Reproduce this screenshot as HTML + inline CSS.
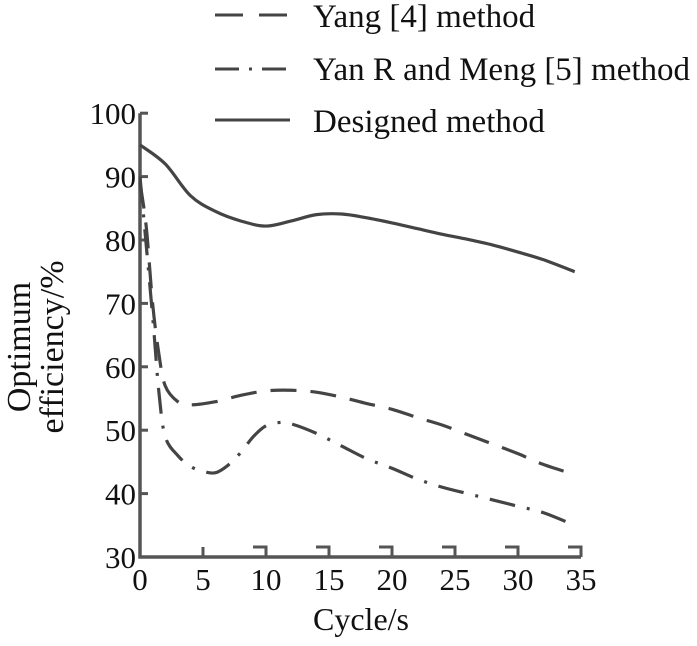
<!DOCTYPE html>
<html><head><meta charset="utf-8"><style>
html,body{margin:0;padding:0;background:#fff;}
svg text{font-family:"Liberation Serif",serif;fill:#111;}
</style></head><body>
<svg width="697" height="641" viewBox="0 0 697 641">
<g id="legend">
  <g>
    <line x1="215" y1="15" x2="290" y2="15" stroke="#444" stroke-width="3" stroke-dasharray="28,16"/>
    <text x="313" y="27" font-size="33">Yang [4] method</text>
  </g>
  <g>
    <line x1="215" y1="69" x2="290" y2="69" stroke="#444" stroke-width="3" stroke-dasharray="24,10,3,10"/>
    <text x="313" y="80" font-size="33">Yan R and Meng [5] method</text>
  </g>
  <g>
    <line x1="215" y1="120" x2="290" y2="120" stroke="#444" stroke-width="3"/>
    <text x="313" y="132" font-size="33">Designed method</text>
  </g>
</g>
<g id="axes"></g>
<g id="series"></g>
<text x="361" y="630" font-size="32" text-anchor="middle">Cycle/s</text>
<g transform="translate(0,347) rotate(-90)">
  <text x="0" y="30" font-size="34" text-anchor="middle">Optimum</text>
  <text x="0" y="63" font-size="34" text-anchor="middle">efficiency/%</text>
</g>
</svg>
<script>
const xTicks=[0,5,10,15,20,25,30,35];
const yTicks=[30,40,50,60,70,80,90,100];
const tDesigned=[0,2,4,6,8,10,12,14,16,18,20,22,24,26,28,30,32,34.5];
const vDesigned=[95,92,87,84.5,83,82.2,83,84,84.1,83.5,82.7,81.8,80.9,80.1,79.2,78.1,76.9,75];
const tYang=[0,0.5,1,1.5,2,3,4,6,8,10,12,14,16,18,20,22,24,26,28,30,32,34.5];
const vYang=[89,82,70,62,57,54.5,54,54.5,55.5,56.2,56.3,56,55.2,54.2,53.3,52,50.8,49.3,47.8,46.3,44.6,43];
const tYan=[0,1,1.5,2,3,4,5,6,7,8,9,10,11,12,14,16,18,20,22,24,26,28,30,32,34.5];
const vYan=[90,68,56,49,46,44.3,43.5,43.3,44.5,46.5,49,50.7,51.2,51,49.5,47.5,45.5,44,42.3,41,40,39,38,37,35];
const X=t=>140+t*(581-140)/35;
const Y=v=>557-(v-30)*6.34;
const NS="http://www.w3.org/2000/svg";
const axes=document.getElementById('axes');
function mk(tag,attrs,parent){const e=document.createElementNS(NS,tag);for(const k in attrs)e.setAttribute(k,attrs[k]);parent.appendChild(e);return e;}
const ax=mk('path',{d:`M${X(0)} ${Y(100)} V${Y(30)} H${X(35)}`,fill:'none',stroke:'#555','stroke-width':3.5},axes);


yTicks.forEach(v=>{
  const l=mk('line',{x1:X(0),x2:X(0)+8,y1:Y(v),y2:Y(v),stroke:'#555','stroke-width':3},axes);
  
  
  const t=mk('text',{x:136,y:Y(v)+11,'font-size':31,'text-anchor':'end'},axes);
  t.textContent=v;
  
  
});
xTicks.forEach((v,i)=>{
  if(i>0){
    const d=i==1?`M${X(v)} ${Y(30)} V${Y(30)-10}`:`M${X(v)} ${Y(30)} V${Y(30)-10} H${X(v)-13}`;
    const l=mk('path',{d:d,fill:'none',stroke:'#555','stroke-width':3},axes);
    
    
  }
  const t=mk('text',{x:X(v),y:590,'font-size':31,'text-anchor':'middle'},axes);
  t.textContent=v;
  
  
});
function smooth(ts,vs){
  const p=ts.map((t,i)=>[X(t),Y(vs[i])]);
  let d=`M${p[0][0]} ${p[0][1]}`;
  for(let i=0;i<p.length-1;i++){
    const p0=p[i-1]||p[i],p1=p[i],p2=p[i+1],p3=p[i+2]||p2;
    const c1=[p1[0]+(p2[0]-p0[0])/6,p1[1]+(p2[1]-p0[1])/6];
    const c2=[p2[0]-(p3[0]-p1[0])/6,p2[1]-(p3[1]-p1[1])/6];
    d+=` C${c1[0]} ${c1[1]} ${c2[0]} ${c2[1]} ${p2[0]} ${p2[1]}`;
  }
  return d;
}
const series=document.getElementById('series');
const s1=mk('path',{d:smooth(tDesigned,vDesigned),fill:'none',stroke:'#444','stroke-width':3.2},series);


const s2=mk('path',{d:smooth(tYang,vYang),fill:'none',stroke:'#444','stroke-width':3.2,'stroke-dasharray':'26,14'},series);


const s3=mk('path',{d:smooth(tYan,vYan),fill:'none',stroke:'#444','stroke-width':3.2,'stroke-dasharray':'26,12,3,12'},series);


</script>
</body></html>
